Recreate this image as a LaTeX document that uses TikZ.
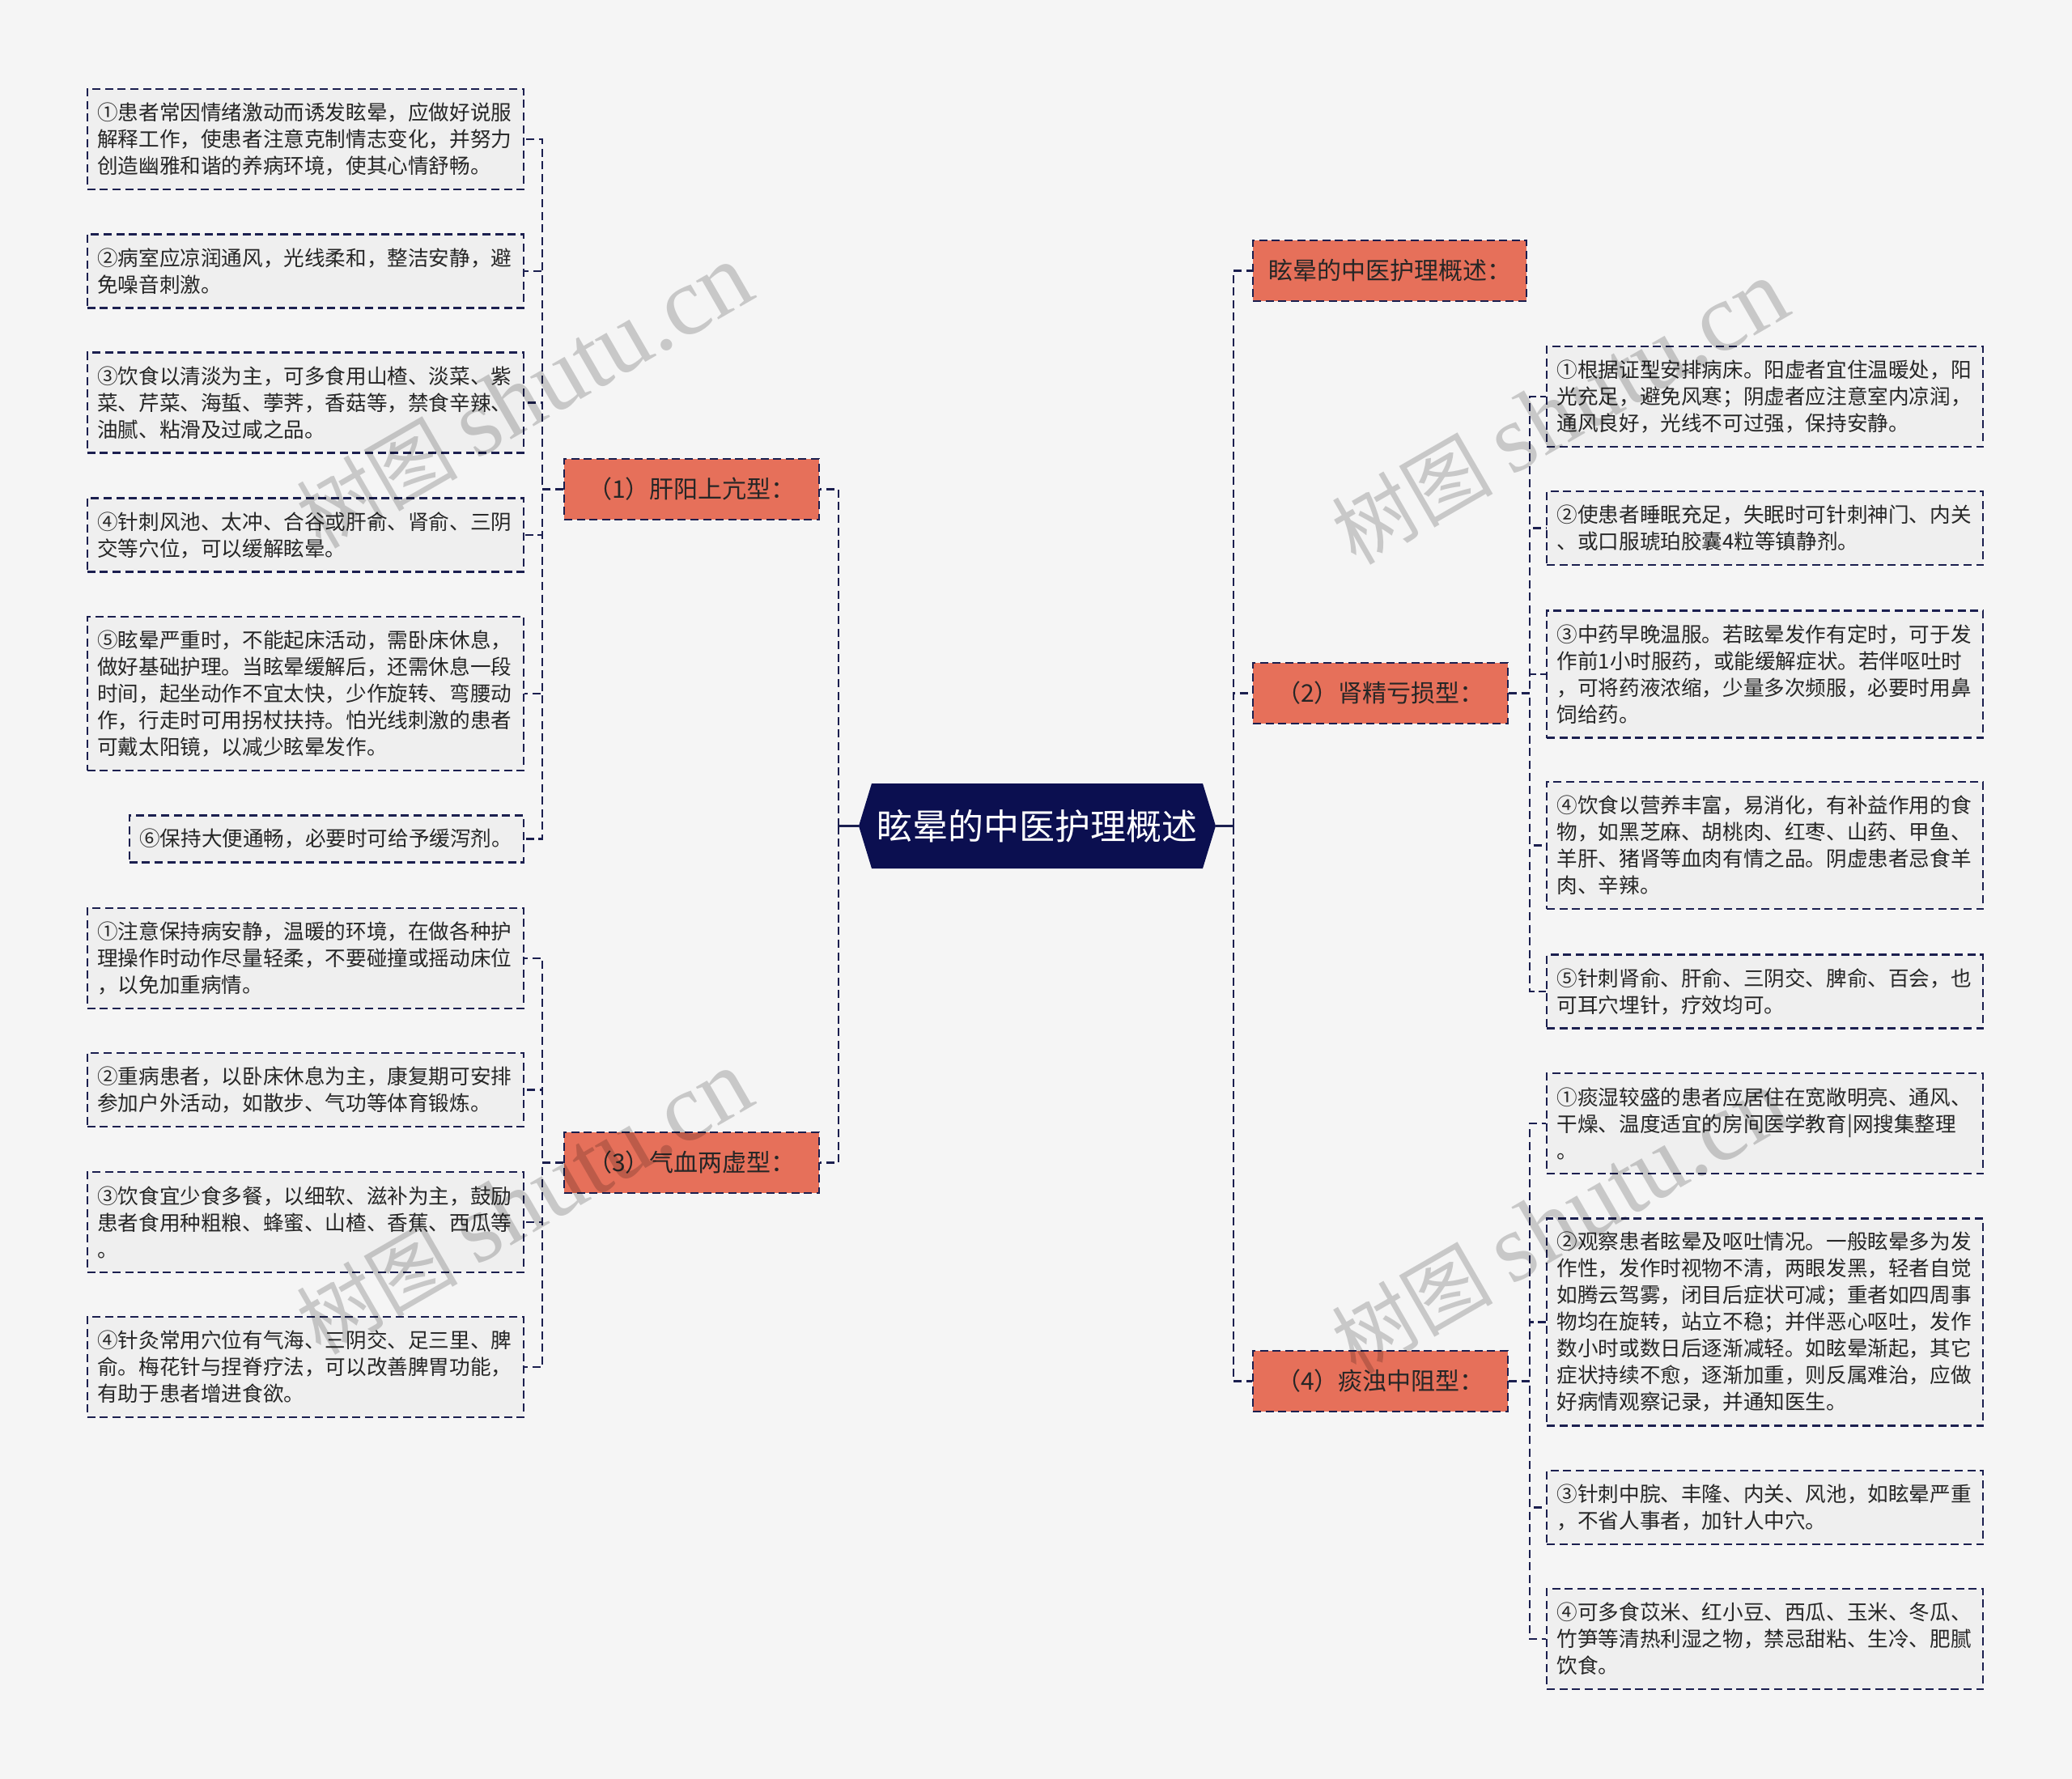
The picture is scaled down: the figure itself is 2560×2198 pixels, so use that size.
\documentclass[tikz,border=0pt]{standalone}
\usepackage{fontspec}
\setmainfont{Noto Sans CJK SC}
\newfontfamily\wmlatin{Liberation Serif}
\definecolor{bgpage}{HTML}{F5F5F5}
\definecolor{leaffill}{HTML}{EFEFEF}
\definecolor{inkline}{HTML}{1B1F4F}
\definecolor{rootfill}{HTML}{0B0F50}
\definecolor{branchfill}{HTML}{E6705A}
\definecolor{txtdark}{HTML}{262626}

\begin{document}
\begin{tikzpicture}[x=0.5pt, y=-0.5pt,
    leafbox/.style={draw=inkline, line width=1.2pt, dash pattern=on 5pt off 2.8pt,
      fill=leaffill, text=txtdark, align=left, text width=257pt,
      inner xsep=6.25pt, inner ysep=3pt, font=\fontsize{12.8}{16.5}\selectfont},
    branchbox/.style={draw=inkline, line width=1.2pt, dash pattern=on 5pt off 2.8pt,
      fill=branchfill, text=txtdark, minimum width=157.5pt, minimum height=37.5pt,
      font=\fontsize{15}{18}\selectfont},
    rootnode/.style={text=white, minimum width=220.5pt, minimum height=52.5pt,
      font=\fontsize{22}{26}\selectfont},
    link/.style={draw=inkline, line width=1.2pt, dash pattern=on 5pt off 2.8pt},
    stub/.style={draw=inkline, line width=1.4pt},
    watermark/.style={text=black, opacity=0.18, rotate=30}]

  % page
  \fill[bgpage] (0,0) rectangle (2560,2198);
  \useasboundingbox (0,0) rectangle (2560,2198);

  % centre
  \fill[rootfill] (1061,1020.5) -- (1077,968) -- (1486,968) -- (1502,1020.5)
    -- (1486,1073) -- (1077,1073) -- cycle;
  \node[rootnode] (root) at (1281.5,1020.5) {眩晕的中医护理概述};

  % branches
  \node[branchbox, minimum width=169pt] (b0) at (1717,334.5) {眩晕的中医护理概述：};
  \node[branchbox] (b1) at (854.5,604.5) {（1）肝阳上亢型：};
  \node[branchbox] (b2) at (1705.5,856.5) {（2）肾精亏损型：};
  \node[branchbox] (b3) at (854.5,1436.5) {（3）气血两虚型：};
  \node[branchbox] (b4) at (1705.5,1706.5) {（4）痰浊中阻型：};

  % (1) leaves
  \node[leafbox, anchor=east, minimum height=62pt] (l1) at (648,172) {①患者常因情绪激动而诱发眩晕，应做好说服\\解释工作，使患者注意克制情志变化，并努力\\创造幽雅和谐的养病环境，使其心情舒畅。};
  \node[leafbox, anchor=east, minimum height=45.5pt] (l2) at (648,335) {②病室应凉润通风，光线柔和，整洁安静，避\\免噪音刺激。};
  \node[leafbox, anchor=east, minimum height=62pt] (l3) at (648,497.5) {③饮食以清淡为主，可多食用山楂、淡菜、紫\\菜、芹菜、海蜇、荸荠，香菇等，禁食辛辣、\\油腻、粘滑及过咸之品。};
  \node[leafbox, anchor=east, minimum height=45.5pt] (l4) at (648,661) {④针刺风池、太冲、合谷或肝俞、肾俞、三阴\\交等穴位，可以缓解眩晕。};
  \node[leafbox, anchor=east, minimum height=95pt] (l5) at (648,857) {⑤眩晕严重时，不能起床活动，需卧床休息，\\做好基础护理。当眩晕缓解后，还需休息一段\\时间，起坐动作不宜太快，少作旋转、弯腰动\\作，行走时可用拐杖扶持。怕光线刺激的患者\\可戴太阳镜，以减少眩晕发作。};
  \node[leafbox, anchor=east, text width=231pt, minimum height=29pt] (l6) at (648,1036.5) {⑥保持大便通畅，必要时可给予缓泻剂。};

  % (3) leaves
  \node[leafbox, anchor=east, minimum height=62pt] (m1) at (648,1184) {①注意保持病安静，温暖的环境，在做各种护\\理操作时动作尽量轻柔，不要碰撞或摇动床位\\，以免加重病情。};
  \node[leafbox, anchor=east, minimum height=45.5pt] (m2) at (648,1346.5) {②重病患者，以卧床休息为主，康复期可安排\\参加户外活动，如散步、气功等体育锻炼。};
  \node[leafbox, anchor=east, minimum height=62pt] (m3) at (648,1510) {③饮食宜少食多餐，以细软、滋补为主，鼓励\\患者食用种粗粮、蜂蜜、山楂、香蕉、西瓜等\\。};
  \node[leafbox, anchor=east, minimum height=62pt] (m4) at (648,1689) {④针灸常用穴位有气海、三阴交、足三里、脾\\俞。梅花针与捏脊疗法，可以改善脾胃功能，\\有助于患者增进食欲。};

  % (2) leaves
  \node[leafbox, anchor=west, minimum height=62pt] (r1) at (1910,490) {①根据证型安排病床。阳虚者宜住温暖处，阳\\光充足，避免风寒；阴虚者应注意室内凉润，\\通风良好，光线不可过强，保持安静。};
  \node[leafbox, anchor=west, minimum height=45.5pt] (r2) at (1910,652.5) {②使患者睡眠充足，失眠时可针刺神门、内关\\、或口服琥珀胶囊4粒等镇静剂。};
  \node[leafbox, anchor=west, minimum height=78.5pt] (r3) at (1910,833) {③中药早晚温服。若眩晕发作有定时，可于发\\作前1小时服药，或能缓解症状。若伴呕吐时\\，可将药液浓缩，少量多次频服，必要时用鼻\\饲给药。};
  \node[leafbox, anchor=west, minimum height=78.5pt] (r4) at (1910,1044.5) {④饮食以营养丰富，易消化，有补益作用的食\\物，如黑芝麻、胡桃肉、红枣、山药、甲鱼、\\羊肝、猪肾等血肉有情之品。阴虚患者忌食羊\\肉、辛辣。};
  \node[leafbox, anchor=west, minimum height=45.5pt] (r5) at (1910,1225) {⑤针刺肾俞、肝俞、三阴交、脾俞、百会，也\\可耳穴埋针，疗效均可。};

  % (4) leaves
  \node[leafbox, anchor=west, minimum height=62pt] (s1) at (1910,1388) {①痰湿较盛的患者应居住在宽敞明亮、通风、\\干燥、温度适宜的房间医学教育|网搜集整理\\。};
  \node[leafbox, anchor=west, minimum height=128pt] (s2) at (1910,1633.5) {②观察患者眩晕及呕吐情况。一般眩晕多为发\\作性，发作时视物不清，两眼发黑，轻者自觉\\如腾云驾雾，闭目后症状可减；重者如四周事\\物均在旋转，站立不稳；并伴恶心呕吐，发作\\数小时或数日后逐渐减轻。如眩晕渐起，其它\\症状持续不愈，逐渐加重，则反属难治，应做\\好病情观察记录，并通知医生。};
  \node[leafbox, anchor=west, minimum height=45.5pt] (s3) at (1910,1862.5) {③针刺中脘、丰隆、内关、风池，如眩晕严重\\，不省人事者，加针人中穴。};
  \node[leafbox, anchor=west, minimum height=62pt] (s4) at (1910,2025) {④可多食苡米、红小豆、西瓜、玉米、冬瓜、\\竹笋等清热利湿之物，禁忌甜粘、生冷、肥腻\\饮食。};

  % connectors
  \coordinate (ltrunk) at (1036,1020.5);
  \coordinate (rtrunk) at (1524,1020.5);
  \draw[stub] (root.west) -- (ltrunk);
  \draw[stub] (root.east) -- (rtrunk);
  \foreach \b in {b1,b3}
    \draw[link] (ltrunk) |- (\b.east);
  \foreach \b in {b0,b2,b4}
    \draw[link] (rtrunk) |- (\b.west);
  \foreach \i in {1,...,6}
    \draw[link] (b1.west) -- ++(-26,0) |- (l\i.east);
  \foreach \i in {1,...,4}
    \draw[link] (b3.west) -- ++(-26,0) |- (m\i.east);
  \foreach \i in {1,...,5}
    \draw[link] (b2.east) -- ++(26,0) |- (r\i.west);
  \foreach \i in {1,...,4}
    \draw[link] (b4.east) -- ++(26,0) |- (s\i.west);

  % watermarks
  \foreach \x/\y [count=\k] in {648/490, 1927/510, 648/1486, 1927/1510}
    \node[watermark] (wm\k) at (\x,\y) {\fontsize{50}{50}\selectfont 树图 \wmlatin\fontsize{60}{60}\selectfont shutu.cn};
\end{tikzpicture}
\end{document}
